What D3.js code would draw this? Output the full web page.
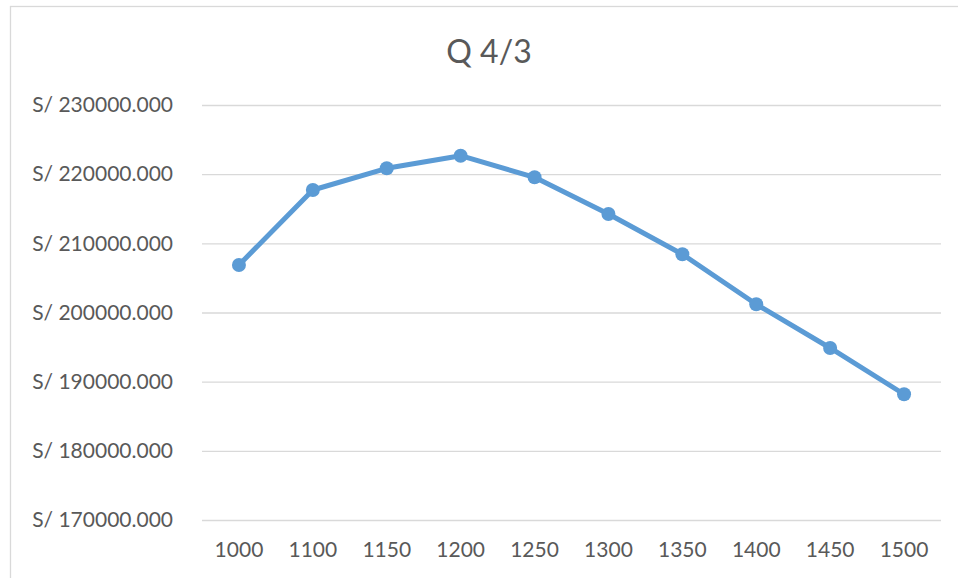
<!DOCTYPE html>
<html>
<head>
<meta charset="utf-8">
<script src="https://cdn.jsdelivr.net/npm/d3@7"></script>
<style>
  html, body { margin: 0; padding: 0; background: #ffffff; }
  svg { display: block; }
  text { font-family: Lato, "Open Sans", sans-serif; fill: #595959; }
</style>
</head>
<body>
<svg id="chart" width="958" height="578"></svg>
<script>
const title = "Q 4/3";
const categories = ["1000", "1100", "1150", "1200", "1250", "1300", "1350", "1400", "1450", "1500"];
const values = [206870, 217710, 220850, 222670, 219550, 214240, 208420, 201190, 194870, 188180];
const yTicks = [170000, 180000, 190000, 200000, 210000, 220000, 230000];
const yDomain = [170000, 230000];

const W = 958, H = 578;
const margin = { left: 202, right: 17, top: 105, bottom: 58 };
const svg = d3.select("#chart");

// chart frame (border)
svg.append("rect")
  .attr("x", 10.5).attr("y", 6.5)
  .attr("width", W + 20).attr("height", H + 20)
  .attr("fill", "#ffffff")
  .attr("stroke", "#d9d9d9")
  .attr("stroke-width", 1.3);

const x = d3.scaleBand()
  .domain(categories)
  .range([margin.left, W - margin.right])
  .paddingInner(0).paddingOuter(0);

const y = d3.scaleLinear()
  .domain(yDomain)
  .range([520, margin.top]);

// gridlines
const yAxisGrid = d3.axisLeft(y)
  .tickValues(yTicks)
  .tickSize(-(W - margin.right - margin.left))
  .tickFormat("");
const grid = svg.append("g")
  .attr("transform", `translate(${margin.left},0)`)
  .call(yAxisGrid);
grid.select(".domain").remove();
grid.selectAll(".tick line")
  .attr("stroke", "#d9d9d9")
  .attr("stroke-width", 1.3);

// y labels
const yAxis = d3.axisLeft(y)
  .tickValues(yTicks)
  .tickSize(0)
  .tickPadding(29)
  .tickFormat(d => "S/ " + d3.format(".3f")(d));
const ya = svg.append("g")
  .attr("transform", `translate(${margin.left},0)`)
  .call(yAxis);
ya.select(".domain").remove();
ya.selectAll("text")
  .attr("font-size", 21)
  .attr("font-family", "Lato, 'Open Sans', sans-serif")
  .attr("fill", "#595959");

// x labels
const xAxis = d3.axisBottom(x).tickSize(0).tickPadding(22);
const xa = svg.append("g")
  .attr("transform", `translate(0,520)`)
  .call(xAxis);
xa.select(".domain").remove();
xa.selectAll("text")
  .attr("font-size", 21)
  .attr("font-family", "Lato, 'Open Sans', sans-serif")
  .attr("fill", "#595959");

// line
const pts = categories.map((c, i) => ({ c, v: values[i] }));
const line = d3.line()
  .x(d => x(d.c) + x.bandwidth() / 2)
  .y(d => y(d.v));
svg.append("path")
  .datum(pts)
  .attr("d", line)
  .attr("fill", "none")
  .attr("stroke", "#5b9bd5")
  .attr("stroke-width", 5)
  .attr("stroke-linejoin", "round")
  .attr("stroke-linecap", "round");

svg.selectAll("circle.pt")
  .data(pts)
  .enter().append("circle")
  .attr("class", "pt")
  .attr("cx", d => x(d.c) + x.bandwidth() / 2)
  .attr("cy", d => y(d.v))
  .attr("r", 7)
  .attr("fill", "#5b9bd5");

// title
svg.append("text")
  .attr("x", 489)
  .attr("y", 63)
  .attr("text-anchor", "middle")
  .attr("font-size", 32)
  .attr("fill", "#595959")
  .text(title);
</script>
</body>
</html>
